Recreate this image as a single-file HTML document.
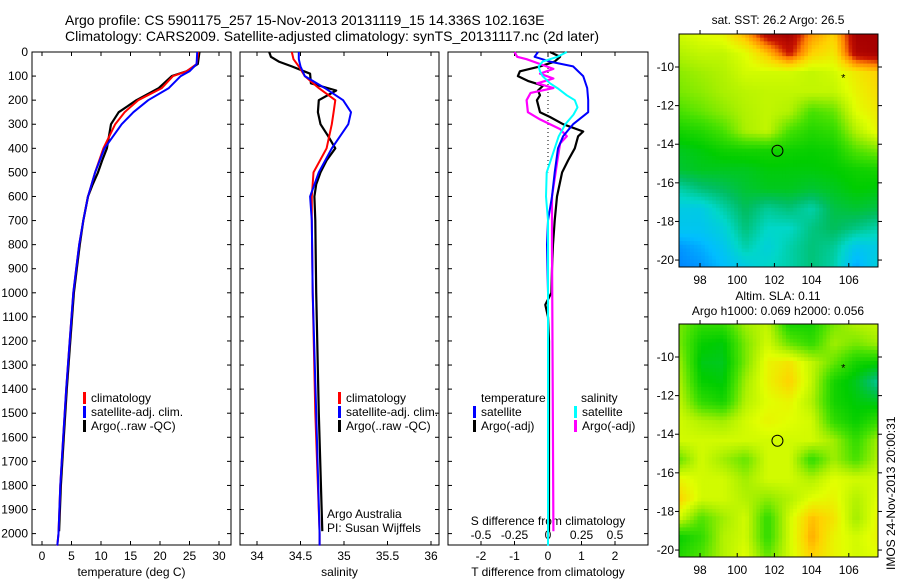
<!DOCTYPE html>
<html><head><meta charset="utf-8"><style>
body{margin:0;background:#fff;}
svg{display:block;font-family:"Liberation Sans",sans-serif;}
</style></head><body>
<svg id="fig" width="900" height="580"></svg>
<script>
// ---------- data ----------
const tDepths=[0,50,80,100,150,200,250,300,400,500,600,700,800,900,1000,1200,1400,1600,1800,2000,2050];
const tClim=[26.5,26.2,24.5,22.2,20.3,16.3,14.0,12.4,10.4,9.0,7.8,7.0,6.3,5.8,5.3,4.7,4.1,3.6,3.1,2.8,2.6];
const tSat=[26.3,26.2,25.0,23.5,21.5,18.0,15.5,13.5,10.6,9.0,7.8,7.0,6.3,5.8,5.3,4.7,4.1,3.6,3.1,2.8,2.6];
const argoDepths=[0,50,80,100,150,200,250,300,400,450,500,550,600,700,800,900,1000,1200,1400,1600,1800,1990];
const tArgo=[26.7,26.4,24.5,22.0,19.8,16.0,13.0,11.7,11.0,10.2,9.5,8.6,7.8,7.0,6.4,5.9,5.4,4.8,4.2,3.7,3.2,2.9];
const sDepths=[0,30,60,100,150,200,250,300,400,500,600,700,1000,1500,2000,2050];
const sClim=[34.40,34.42,34.48,34.55,34.71,34.90,34.88,34.86,34.80,34.65,34.63,34.63,34.64,34.67,34.72,34.72];
const sSat=[34.48,34.48,34.50,34.55,34.78,34.99,35.08,35.05,34.86,34.71,34.61,34.63,34.64,34.68,34.72,34.72];
const sArgoDepths=[0,20,40,60,90,130,160,200,250,300,350,400,450,500,550,600,700,1000,1500,1990];
const sArgo=[34.14,34.16,34.25,34.40,34.61,34.62,34.91,34.71,34.70,34.73,34.82,34.90,34.80,34.73,34.68,34.66,34.67,34.68,34.71,34.75];
const dSatTDepths=[0,20,40,60,100,150,200,250,300,350,400,500,600,700,800,1000,2050];
const dSatT=[-0.3,-0.4,0.06,0.75,1.05,1.17,1.2,1.2,0.75,0.45,0.3,0.2,0.12,0,-0.03,0,0];
const dArgoTDepths=[0,20,40,60,80,100,120,140,160,180,200,250,270,300,330,350,400,450,500,600,700,800,900,1000,1050,1100,1200,1500,1990];
const dArgoT=[0.06,0.36,0.2,-0.24,-0.84,-0.9,-0.6,-0.15,-0.3,-0.24,-0.33,-0.24,0.06,0.45,1.05,0.9,0.8,0.6,0.42,0.27,0.2,0.15,0.12,0.1,-0.08,0.0,0.03,0.03,0.03];
const dSatSDepths=[0,20,40,60,80,100,130,150,180,200,230,260,300,350,400,500,600,700,2050];
const dSatS=[0.14,0.07,-0.04,-0.07,-0.06,-0.04,0.015,0.07,0.14,0.2,0.22,0.19,0.13,0.08,0.05,-0.01,-0.015,0,0];
const dArgoSDepths=[0,20,30,50,70,90,110,130,150,170,200,250,280,320,350,380,450,600,800,1990];
const dArgoS=[-0.25,-0.23,-0.16,-0.06,0.04,-0.06,0.04,-0.08,0.04,-0.13,-0.16,-0.15,-0.06,0.09,0.14,0.09,0.07,0.03,0.03,0.04];
const depthTicks=[0,100,200,300,400,500,600,700,800,900,1000,1100,1200,1300,1400,1500,1600,1700,1800,1900,2000];
const tTicks=[0,5,10,15,20,25,30];
const sTicks=[34,34.5,35,35.5,36];
const sTickLabels=["34","34.5","35","35.5","36"];
const dTTicks=[-2,-1,0,1,2];
const dSTicks=[-0.5,-0.25,0,0.25,0.5];
const dSTickLabels=["-0.5","-0.25","0","0.25","0.5"];
const lonTicks=[98,100,102,104,106];
const latTicks=[-10,-12,-14,-16,-18,-20];
const sstGrid=[
[0.7,0.72,0.74,0.84,0.98,1,0.86,0.8,1,1],
[0.66,0.68,0.68,0.72,0.82,0.95,0.8,0.76,0.98,1],
[0.62,0.64,0.66,0.7,0.7,0.7,0.68,0.7,0.76,0.8],
[0.6,0.62,0.65,0.67,0.68,0.68,0.68,0.68,0.74,0.78],
[0.55,0.58,0.62,0.66,0.68,0.66,0.55,0.58,0.72,0.76],
[0.48,0.5,0.55,0.65,0.68,0.55,0.5,0.52,0.66,0.74],
[0.42,0.44,0.47,0.48,0.48,0.47,0.46,0.47,0.56,0.6],
[0.4,0.42,0.42,0.42,0.44,0.44,0.44,0.45,0.47,0.48],
[0.28,0.33,0.36,0.4,0.42,0.42,0.4,0.42,0.45,0.44],
[0.2,0.2,0.28,0.36,0.3,0.33,0.28,0.38,0.4,0.38],
[0.18,0.18,0.22,0.33,0.25,0.25,0.32,0.36,0.32,0.28],
[0.1,0.13,0.18,0.28,0.22,0.28,0.33,0.3,0.18,0.2],
[0.08,0.1,0.15,0.2,0.25,0.28,0.33,0.28,0.12,0.22]];
const slaGrid=[
[0.6,0.52,0.52,0.64,0.68,0.48,0.48,0.6,0.66,0.68],
[0.6,0.46,0.44,0.6,0.7,0.58,0.52,0.64,0.6,0.64],
[0.64,0.43,0.42,0.6,0.74,0.77,0.68,0.58,0.48,0.46],
[0.66,0.46,0.44,0.64,0.74,0.8,0.68,0.48,0.42,0.3],
[0.68,0.52,0.48,0.66,0.72,0.74,0.66,0.48,0.44,0.42],
[0.7,0.66,0.64,0.7,0.74,0.72,0.7,0.52,0.46,0.52],
[0.7,0.7,0.7,0.7,0.7,0.7,0.7,0.64,0.52,0.64],
[0.58,0.7,0.64,0.58,0.7,0.7,0.52,0.64,0.55,0.66],
[0.74,0.7,0.7,0.64,0.7,0.7,0.66,0.72,0.7,0.7],
[0.8,0.7,0.7,0.66,0.62,0.66,0.72,0.74,0.66,0.72],
[0.7,0.56,0.64,0.7,0.52,0.7,0.82,0.77,0.64,0.74],
[0.46,0.52,0.66,0.7,0.52,0.7,0.84,0.74,0.7,0.74],
[0.5,0.56,0.66,0.72,0.58,0.7,0.8,0.74,0.7,0.72]];
const argoPos=[102.163,-14.336];
const otherPos=[105.7,-10.5];

// ---------- helpers ----------
const NS="http://www.w3.org/2000/svg";
const svg=document.getElementById('fig');
function mk(tag,attrs,parent){const e=document.createElementNS(NS,tag);for(const k in attrs)e.setAttribute(k,attrs[k]);(parent||svg).appendChild(e);return e;}
function txt(s,x,y,anchor,size,parent){const t=mk('text',{x:x,y:y,'text-anchor':anchor||'start','font-size':size||12,fill:'#000'},parent);t.textContent=s;return t;}
const Y0=52,Y1=545,DMAX=(Y1-Y0)/24.08*100;
const yD=d=>Y0+d/DMAX*(Y1-Y0);
function lin(d0,d1,r0,r1){return v=>r0+(v-d0)/(d1-d0)*(r1-r0);}

const title=mk('g',{});


txt('Argo profile: CS 5901175_257 15-Nov-2013 20131119_15 14.336S 102.163E',65,25,'start',14,title);
txt('Climatology: CARS2009. Satellite-adjusted climatology: synTS_20131117.nc (2d later)',65,41,'start',14,title);

function panel(name,x0,x1,xs,ticks,labels,xlabel,showDepth){
  const g=mk('g',{});
  
  
  mk('rect',{x:x0,y:Y0,width:x1-x0,height:Y1-Y0,fill:'#fff',stroke:'#000','stroke-width':1},g);
  ticks.forEach((t,i)=>{const x=xs(t);
    mk('line',{x1:x,x2:x,y1:Y1,y2:Y1-4,stroke:'#000'},g);
    mk('line',{x1:x,x2:x,y1:Y0,y2:Y0+4,stroke:'#000'},g);
    txt(labels[i],x,560,'middle',12,g);});
  depthTicks.forEach(d=>{const y=yD(d);
    mk('line',{x1:x0,x2:x0+4,y1:y,y2:y,stroke:'#000'},g);
    mk('line',{x1:x1,x2:x1-4,y1:y,y2:y,stroke:'#000'},g);
    if(showDepth)txt(String(d),28,y+4,'end',12,g);});
  const xl=txt(xlabel,(x0+x1)/2,576,'middle',12,g);
  
  return g;
}
function line(g,name,xs,vals,depths,color,w){
  let d='';vals.forEach((v,i)=>{d+=(i?'L':'M')+xs(v).toFixed(1)+','+yD(depths[i]).toFixed(1);});
  const p=mk('path',{d:d,fill:'none',stroke:color,'stroke-width':w||2,'stroke-linejoin':'round'},g);
  
  
}
function legend(g,x,y,items){
  items.forEach((it,i)=>{
    const r=mk('rect',{x:x,y:y+i*14-10,width:3,height:12,fill:it[1]},g);
    
    
    const t=txt(it[0],x+8,y+i*14,'start',12,g);
    
  });
}

// Temperature panel
const xT=lin(0,30,42,219);
const p1=panel('temperature-panel',32,231,xT,tTicks,tTicks.map(String),'temperature (deg C)',true);
line(p1,'temp-argo',xT,tArgo,argoDepths,'#000',2.2);
line(p1,'temp-climatology',xT,tClim,tDepths,'#f00',2);
line(p1,'temp-satellite',xT,tSat,tDepths,'#00f',2);
legend(p1,83,402,[['climatology','#f00'],['satellite-adj. clim.','#00f'],['Argo(..raw -QC)','#000']]);

// Salinity panel
const xS=lin(34,36,257,431);
const p2=panel('salinity-panel',240,439,xS,sTicks,sTickLabels,'salinity',false);
line(p2,'sal-argo',xS,sArgo,sArgoDepths,'#000',2.2);
line(p2,'sal-climatology',xS,sClim,sDepths,'#f00',2);
line(p2,'sal-satellite',xS,sSat,sDepths,'#00f',2);
legend(p2,338,402,[['climatology','#f00'],['satellite-adj. clim.','#00f'],['Argo(..raw -QC)','#000']]);
txt('Argo Australia',327,518,'start',12,p2);
txt('PI: Susan Wijffels',327,532,'start',12,p2);

// Difference panel
const xDT=lin(0,2,548,615), xDS=lin(0,0.5,548,615);
const p3=panel('difference-panel',448,648,xDT,dTTicks,dTTicks.map(String),'T difference from climatology',false);
mk('line',{x1:548,x2:548,y1:Y0,y2:yD(500),stroke:'#000','stroke-dasharray':'1,3'},p3);
dSTicks.forEach((t,i)=>txt(dSTickLabels[i],xDS(t),539,'middle',12,p3));
txt('S difference from climatology',548,525,'middle',12,p3);
line(p3,'tdiff-argo',xDT,dArgoT,dArgoTDepths,'#000',2.2);
line(p3,'sdiff-argo',xDS,dArgoS,dArgoSDepths,'#f0f',2.2);
line(p3,'tdiff-satellite',xDT,dSatT,dSatTDepths,'#00f',2);
line(p3,'sdiff-satellite',xDS,dSatS,dSatSDepths,'#0ff',2);
txt('temperature',481,402,'start',12,p3);
txt('salinity',581,402,'start',12,p3);
legend(p3,473,416,[['satellite','#00f'],['Argo(-adj)','#000']]);
legend(p3,574,416,[['satellite','#0ff'],['Argo(-adj)','#f0f']]);

// ---------- maps ----------
const cstops=[[0,[0,70,255]],[0.15,[0,190,255]],[0.25,[0,215,200]],[0.35,[0,190,100]],[0.45,[0,205,0]],[0.55,[70,225,0]],[0.65,[170,240,0]],[0.72,[225,255,0]],[0.8,[255,210,0]],[0.88,[255,130,0]],[0.94,[200,20,0]],[1,[165,0,0]]];
function cmap(v){v=Math.max(0,Math.min(1,v));for(let i=1;i<cstops.length;i++){if(v<=cstops[i][0]){const a=cstops[i-1],b=cstops[i],f=(v-a[0])/(b[0]-a[0]);return 'rgb('+a[1].map((c,k)=>Math.round(c+(b[1][k]-c)*f)).join(',')+')';}}return 'rgb(165,0,0)';}
function sample(grid,fx,fy){const R=grid.length-1,C=grid[0].length-1;const gx=fx*C,gy=fy*R;const i=Math.min(Math.floor(gy),R-1),j=Math.min(Math.floor(gx),C-1);const u=gx-j,v=gy-i;
  return grid[i][j]*(1-u)*(1-v)+grid[i][j+1]*u*(1-v)+grid[i+1][j]*(1-u)*v+grid[i+1][j+1]*u*v;}
function map(name,y0,grid,titles,titleBase){
  const x0=679,x1=878,y1=y0+233;
  const lonX=lin(96.87,107.57,x0,x1), latY=lin(-8.29,-20.36,y0,y1);
  const g=mk('g',{});
  
  
  const nx=54,ny=63,cw=(x1-x0)/nx,ch=(y1-y0)/ny;
  for(let r=0;r<ny;r++)for(let c=0;c<nx;c++){
    mk('rect',{x:(x0+c*cw).toFixed(2),y:(y0+r*ch).toFixed(2),width:(cw+0.4).toFixed(2),height:(ch+0.4).toFixed(2),fill:cmap(sample(grid,(c+0.5)/nx,(r+0.5)/ny))},g);
  }
  mk('rect',{x:x0,y:y0,width:x1-x0,height:y1-y0,fill:'none',stroke:'#000'},g);
  lonTicks.forEach(l=>{const x=lonX(l);mk('line',{x1:x,x2:x,y1:y1,y2:y1-4,stroke:'#000'},g);mk('line',{x1:x,x2:x,y1:y0,y2:y0-4,stroke:'#000'},g);txt(String(l),x,y1+17,'middle',12,g);});
  latTicks.forEach(l=>{const y=latY(l);mk('line',{x1:x0,x2:x0-4,y1:y,y2:y,stroke:'#000'},g);mk('line',{x1:x1,x2:x1+4,y1:y,y2:y,stroke:'#000'},g);txt(String(l),x0-5,y+4,'end',12,g);});
  const c=mk('circle',{cx:lonX(argoPos[0]),cy:latY(argoPos[1]),r:5.5,fill:'none',stroke:'#000'},g);
  
  txt('*',lonX(otherPos[0]),latY(otherPos[1])+5,'middle',11,g);
  titles.forEach((t,i)=>txt(t,778,titleBase+i*15,'middle',12,g));
}
map('sst-map',34,sstGrid,['sat. SST: 26.2 Argo: 26.5'],24);
map('sla-map',324,slaGrid,['Altim. SLA: 0.11','Argo h1000: 0.069 h2000: 0.056'],300);
const imos=txt('IMOS 24-Nov-2013 20:00:31',0,0,'start',12);
imos.setAttribute('transform','translate(895,570) rotate(-90)');


</script>
</body></html>
